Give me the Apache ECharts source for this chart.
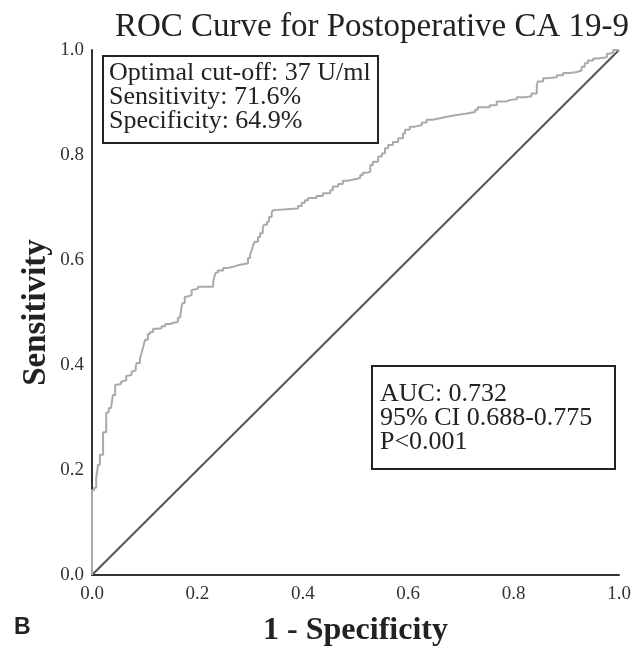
<!DOCTYPE html>
<html>
<head>
<meta charset="utf-8">
<script src="https://cdn.jsdelivr.net/npm/echarts@6/dist/echarts.min.js"></script>
<style>
  html, body { margin: 0; padding: 0; background: #fff; }
  #main { width: 634px; height: 658px; }
</style>
</head>
<body>
<div id="main"></div>
<script>
// ROC curve (1 - specificity, sensitivity)
var fpr = [0, 0.001, 0.004, 0.008, 0.008, 0.011, 0.011, 0.015, 0.015, 0.021, 0.021, 0.027, 0.028, 0.032, 0.036, 0.039, 0.040, 0.044, 0.046,
  0.055, 0.057, 0.065, 0.068, 0.075, 0.078, 0.083, 0.085, 0.091, 0.094, 0.097, 0.099, 0.101, 0.106, 0.106, 0.110, 0.116, 0.125, 0.132,
  0.139, 0.148, 0.157, 0.163, 0.167, 0.170, 0.172, 0.176, 0.180, 0.189, 0.192, 0.201, 0.218, 0.230, 0.233, 0.235, 0.239, 0.249, 0.258,
  0.268, 0.277, 0.287, 0.296, 0.300, 0.303, 0.306, 0.309, 0.315, 0.319, 0.324, 0.326, 0.332, 0.336, 0.341, 0.343, 0.347, 0.376, 0.391,
  0.398, 0.404, 0.410, 0.426, 0.438, 0.452, 0.457, 0.467, 0.476, 0.486, 0.499, 0.509, 0.514, 0.521, 0.528, 0.533, 0.543, 0.550, 0.556,
  0.562, 0.571, 0.581, 0.590, 0.594, 0.603, 0.613, 0.626, 0.635, 0.647, 0.660, 0.673, 0.692, 0.711, 0.727, 0.732, 0.755, 0.768, 0.787,
  0.793, 0.806, 0.822, 0.834, 0.844, 0.846, 0.856, 0.863, 0.882, 0.894, 0.907, 0.920, 0.929, 0.935, 0.941, 0.951, 0.960, 0.977, 0.982,
  0.989, 1.0];
var tpr = [0, 0.162, 0.162, 0.166, 0.185, 0.187, 0.206, 0.210, 0.225, 0.229, 0.272, 0.272, 0.309, 0.310, 0.318, 0.320, 0.339, 0.343, 0.362,
  0.364, 0.368, 0.371, 0.379, 0.381, 0.387, 0.390, 0.398, 0.404, 0.413, 0.423, 0.434, 0.442, 0.448, 0.454, 0.459, 0.463, 0.469, 0.470,
  0.474, 0.478, 0.481, 0.482, 0.490, 0.492, 0.511, 0.518, 0.530, 0.533, 0.543, 0.545, 0.549, 0.549, 0.559, 0.571, 0.576, 0.580, 0.585,
  0.587, 0.590, 0.592, 0.594, 0.604, 0.610, 0.619, 0.629, 0.635, 0.644, 0.651, 0.661, 0.667, 0.673, 0.682, 0.690, 0.695, 0.697, 0.698,
  0.703, 0.709, 0.714, 0.718, 0.722, 0.727, 0.733, 0.740, 0.745, 0.751, 0.754, 0.756, 0.762, 0.766, 0.768, 0.781, 0.787, 0.797, 0.803,
  0.813, 0.819, 0.825, 0.832, 0.841, 0.848, 0.854, 0.857, 0.862, 0.867, 0.870, 0.873, 0.876, 0.879, 0.882, 0.886, 0.891, 0.895, 0.902,
  0.905, 0.906, 0.910, 0.912, 0.917, 0.933, 0.940, 0.946, 0.948, 0.952, 0.956, 0.958, 0.961, 0.968, 0.975, 0.980, 0.984, 0.986, 0.993,
  0.995, 1.0];
// reference line
var refX = [0, 1];
var refY = [0, 1];

var cutoffLines = ['Optimal cut-off: 37 U/ml', 'Sensitivity: 71.6%', 'Specificity: 64.9%'];
var aucLines = ['AUC: 0.732', '95% CI 0.688-0.775', 'P<0.001'];

var serif = '"Liberation Serif", "DejaVu Serif", serif';

var rocData = fpr.map(function (x, i) { return [x, tpr[i]]; });
var refData = refX.map(function (x, i) { return [x, refY[i]]; });

var chart = echarts.init(document.getElementById('main'));

chart.setOption({
  animation: false,
  backgroundColor: '#fff',
  title: {
    text: 'ROC Curve for Postoperative CA 19-9',
    left: 367,
    textAlign: 'center',
    top: 6,
    textStyle: { fontFamily: serif, fontWeight: 'normal', fontSize: 33, color: '#222' }
  },
  grid: { left: 92, right: 15, top: 50, bottom: 83 },
  xAxis: {
    type: 'value',
    min: 0, max: 1, interval: 0.2,
    name: '1 - Specificity',
    nameLocation: 'middle',
    nameGap: 40,
    nameMoveOverlap: false,
    nameTextStyle: { fontFamily: serif, fontWeight: 'bold', fontSize: 32, color: '#222' },
    axisLine: { lineStyle: { color: '#333', width: 2 } },
    axisTick: { show: false },
    splitLine: { show: false },
    axisLabel: {
      fontFamily: serif, fontSize: 19, color: '#333', margin: 10,
      formatter: function (v) { return v.toFixed(1); }
    }
  },
  yAxis: {
    type: 'value',
    min: 0, max: 1, interval: 0.2,
    name: 'Sensitivity',
    nameLocation: 'middle',
    nameGap: 39,
    nameMoveOverlap: false,
    nameTextStyle: { fontFamily: serif, fontWeight: 'bold', fontSize: 33, color: '#222' },
    axisLine: { show: true, lineStyle: { color: '#333', width: 2 } },
    axisTick: { show: false },
    splitLine: { show: false },
    axisLabel: {
      fontFamily: serif, fontSize: 19, color: '#333', margin: 8,
      formatter: function (v) { return v.toFixed(1); }
    }
  },
  series: [
    {
      type: 'line',
      data: refData,
      showSymbol: false,
      lineStyle: { color: '#555', width: 2 },
      silent: true
    },
    {
      type: 'line',
      data: rocData,
      step: 'start',
      showSymbol: false,
      lineStyle: { color: '#aaa', width: 2 },
      silent: true
    }
  ],
  graphic: [
    {
      type: 'rect',
      shape: { x: 103, y: 56, width: 275, height: 87 },
      style: { fill: '#fff', stroke: '#222', lineWidth: 2 },
      z: 10
    },
    {
      type: 'text',
      left: 109, top: 60,
      style: { text: cutoffLines.join('\n'), font: '26px ' + serif, lineHeight: 24, fill: '#222' },
      z: 11
    },
    {
      type: 'rect',
      shape: { x: 372, y: 366, width: 243, height: 103 },
      style: { fill: '#fff', stroke: '#222', lineWidth: 2 },
      z: 10
    },
    {
      type: 'text',
      left: 380, top: 381,
      style: { text: aucLines.join('\n'), font: '26px ' + serif, lineHeight: 24, fill: '#222' },
      z: 11
    },
    {
      type: 'text',
      left: 14, top: 616,
      style: { text: 'B', font: 'bold 23px "Liberation Sans", Arial, sans-serif', fill: '#222' }
    }
  ]
});
</script>
</body>
</html>
